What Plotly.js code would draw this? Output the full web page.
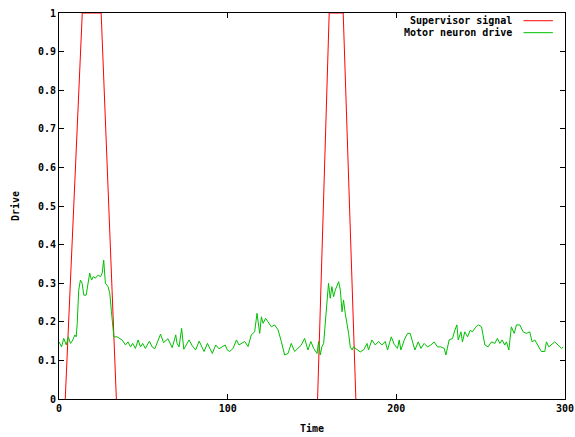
<!DOCTYPE html>
<html>
<head>
<meta charset="utf-8">
<script src="https://cdn.plot.ly/plotly-3.0.1.min.js"></script>
<style>
html,body{margin:0;padding:0;background:#fff;}
#chart{width:575px;height:437px;}
</style>
</head>
<body>
<div id="chart"></div>
<script>
// Supervisor signal (time, value); the zero stretches lie on the bottom border,
// which hides them in the original, so only the two pulses are drawn.
var supTime = [3.7, 13.8, 25, 34, null, 153.3, 160.2, 168.5, 176];
var supValue = [0, 1, 1, 0, null, 0, 1, 1, 0];

// Motor neuron drive (time, value)
var motorTime = [0,1.5,2.8,4.3,5.5,6.8,8.2,9.4,10.2,10.8,11.7,12.7,13.7,14.7,16.1,17.1,18.2,19.3,20.3,21.6,23.2,24.6,25.6,26.5,27.5,29.1,30.1,31.1,31.9,32.5,34.5,37.4,39.4,40.9,42.4,43.7,45.3,46.9,48.3,49.6,51.2,53.6,55.2,56.8,60.2,62,64.6,67.1,68.4,69.2,70,71.2,72.7,74,77.1,79,81,83.1,86,88,90.9,92.9,94.9,96.9,98.5,99.8,101.2,103.2,105.2,106.7,108.1,110.1,112.1,114,116,117.4,119,120,121,122.5,123.9,125.9,127.8,129.9,131.8,133.8,135.8,137.7,139.7,141.7,143.7,145.6,147.6,149.3,151,153,153.9,154.9,155.9,156.9,157.9,158.9,159.8,160.8,161.8,162.8,163.8,165.8,166.8,167.8,168.7,169.7,170.7,171.7,172.7,173.7,174.6,176.7,178.6,180.6,182.6,183.5,185.5,187.5,189.5,191.5,193.4,194.8,197,198.7,200.7,201.7,202.7,204.7,206.6,208.2,209.6,211,213,214.6,216.5,218.5,220.5,222.4,224.4,226.4,228.4,229.4,231.3,233.3,234.7,235.9,236.7,238.3,239.2,240.6,242.2,243.8,245.1,247.2,248.8,250.5,252.5,254.4,256.4,258.4,259.9,261.4,262.7,264.3,265.3,266.7,268.2,269.9,271.2,273.2,275.2,277.1,279.1,280.5,282.1,284,286,288,289,290.4,291.9,293.9,295.9,297.9,299];
var motorValue = [0.148,0.135,0.157,0.14,0.161,0.144,0.153,0.166,0.161,0.196,0.282,0.308,0.30,0.269,0.269,0.30,0.326,0.308,0.317,0.313,0.321,0.317,0.326,0.36,0.30,0.291,0.274,0.226,0.187,0.161,0.161,0.153,0.14,0.148,0.135,0.144,0.131,0.153,0.135,0.144,0.131,0.15,0.135,0.13,0.168,0.146,0.156,0.133,0.153,0.166,0.144,0.135,0.183,0.129,0.153,0.138,0.127,0.15,0.123,0.144,0.118,0.14,0.13,0.135,0.14,0.127,0.123,0.131,0.153,0.14,0.144,0.149,0.136,0.166,0.174,0.222,0.17,0.213,0.196,0.209,0.2,0.187,0.192,0.179,0.149,0.114,0.118,0.144,0.123,0.131,0.14,0.157,0.127,0.149,0.131,0.118,0.149,0.114,0.136,0.144,0.196,0.265,0.3,0.261,0.291,0.265,0.282,0.304,0.282,0.226,0.256,0.222,0.2,0.17,0.135,0.127,0.135,0.127,0.122,0.127,0.144,0.127,0.153,0.14,0.149,0.14,0.149,0.127,0.161,0.142,0.131,0.153,0.127,0.153,0.17,0.17,0.148,0.127,0.148,0.131,0.144,0.135,0.14,0.148,0.135,0.135,0.131,0.114,0.153,0.157,0.178,0.192,0.153,0.174,0.148,0.174,0.161,0.178,0.174,0.187,0.192,0.187,0.14,0.135,0.148,0.144,0.157,0.144,0.153,0.14,0.148,0.127,0.187,0.17,0.192,0.192,0.174,0.17,0.174,0.148,0.153,0.14,0.123,0.123,0.148,0.135,0.14,0.148,0.14,0.131,0.135];

var seriesNames = ["Supervisor signal", "Motor neuron drive"];
var seriesColors = ["#ff0000", "#00c000"];
var xTicks = [0, 100, 200, 300];
var xTickText = ["0", "100", "200", "300"];
var yTicks = [0, 0.1, 0.2, 0.3, 0.4, 0.5, 0.6, 0.7, 0.8, 0.9, 1];
var yTickText = ["0", "0.1", "0.2", "0.3", "0.4", "0.5", "0.6", "0.7", "0.8", "0.9", "1"];

var font = {family: "DejaVu Sans Mono", size: 10, color: "#000", weight: "bold"};

var traces = [
  {x: supTime, y: supValue, type: "scatter", mode: "lines", name: seriesNames[0],
   line: {color: seriesColors[0], width: 1}, hoverinfo: "skip", connectgaps: false},
  {x: motorTime, y: motorValue, type: "scatter", mode: "lines", name: seriesNames[1],
   line: {color: seriesColors[1], width: 1}, hoverinfo: "skip"}
];

// Manual gnuplot-style legend (text left, sample line right)
var legTextX = 0.899, legLineX0 = 0.918, legLineX1 = 0.976;
var legY = [0.980, 0.949];
var annotations = [], shapes = [];
for (var i = 0; i < seriesNames.length; i++) {
  annotations.push({xref: "paper", yref: "paper", x: legTextX, y: legY[i], xanchor: "right", yanchor: "middle",
    text: seriesNames[i], showarrow: false, font: font});
  shapes.push({type: "line", xref: "paper", yref: "paper", x0: legLineX0, x1: legLineX1, y0: legY[i], y1: legY[i],
    line: {color: seriesColors[i], width: 1}});
}

var layout = {
  width: 575, height: 437,
  margin: {l: 59, r: 10, t: 13, b: 38, pad: 0},
  paper_bgcolor: "#fff", plot_bgcolor: "#fff",
  font: font,
  showlegend: false,
  xaxis: {range: [0, 300], tickvals: xTicks, ticktext: xTickText, ticks: "inside", ticklen: 5,
    tickcolor: "#000", showline: true, linecolor: "#000", linewidth: 1, mirror: "ticks",
    showgrid: false, zeroline: false, tickfont: font, fixedrange: true,
    title: {text: "Time", font: font, standoff: 11}},
  yaxis: {range: [0, 1], tickvals: yTicks, ticktext: yTickText, ticks: "inside", ticklen: 5,
    tickcolor: "#000", showline: true, linecolor: "#000", linewidth: 1, mirror: "ticks",
    showgrid: false, zeroline: false, tickfont: font, fixedrange: true,
    title: {text: "Drive", font: font, standoff: 16}},
  annotations: annotations,
  shapes: shapes
};

Plotly.newPlot("chart", traces, layout, {displayModeBar: false, staticPlot: true});
</script>
</body>
</html>
